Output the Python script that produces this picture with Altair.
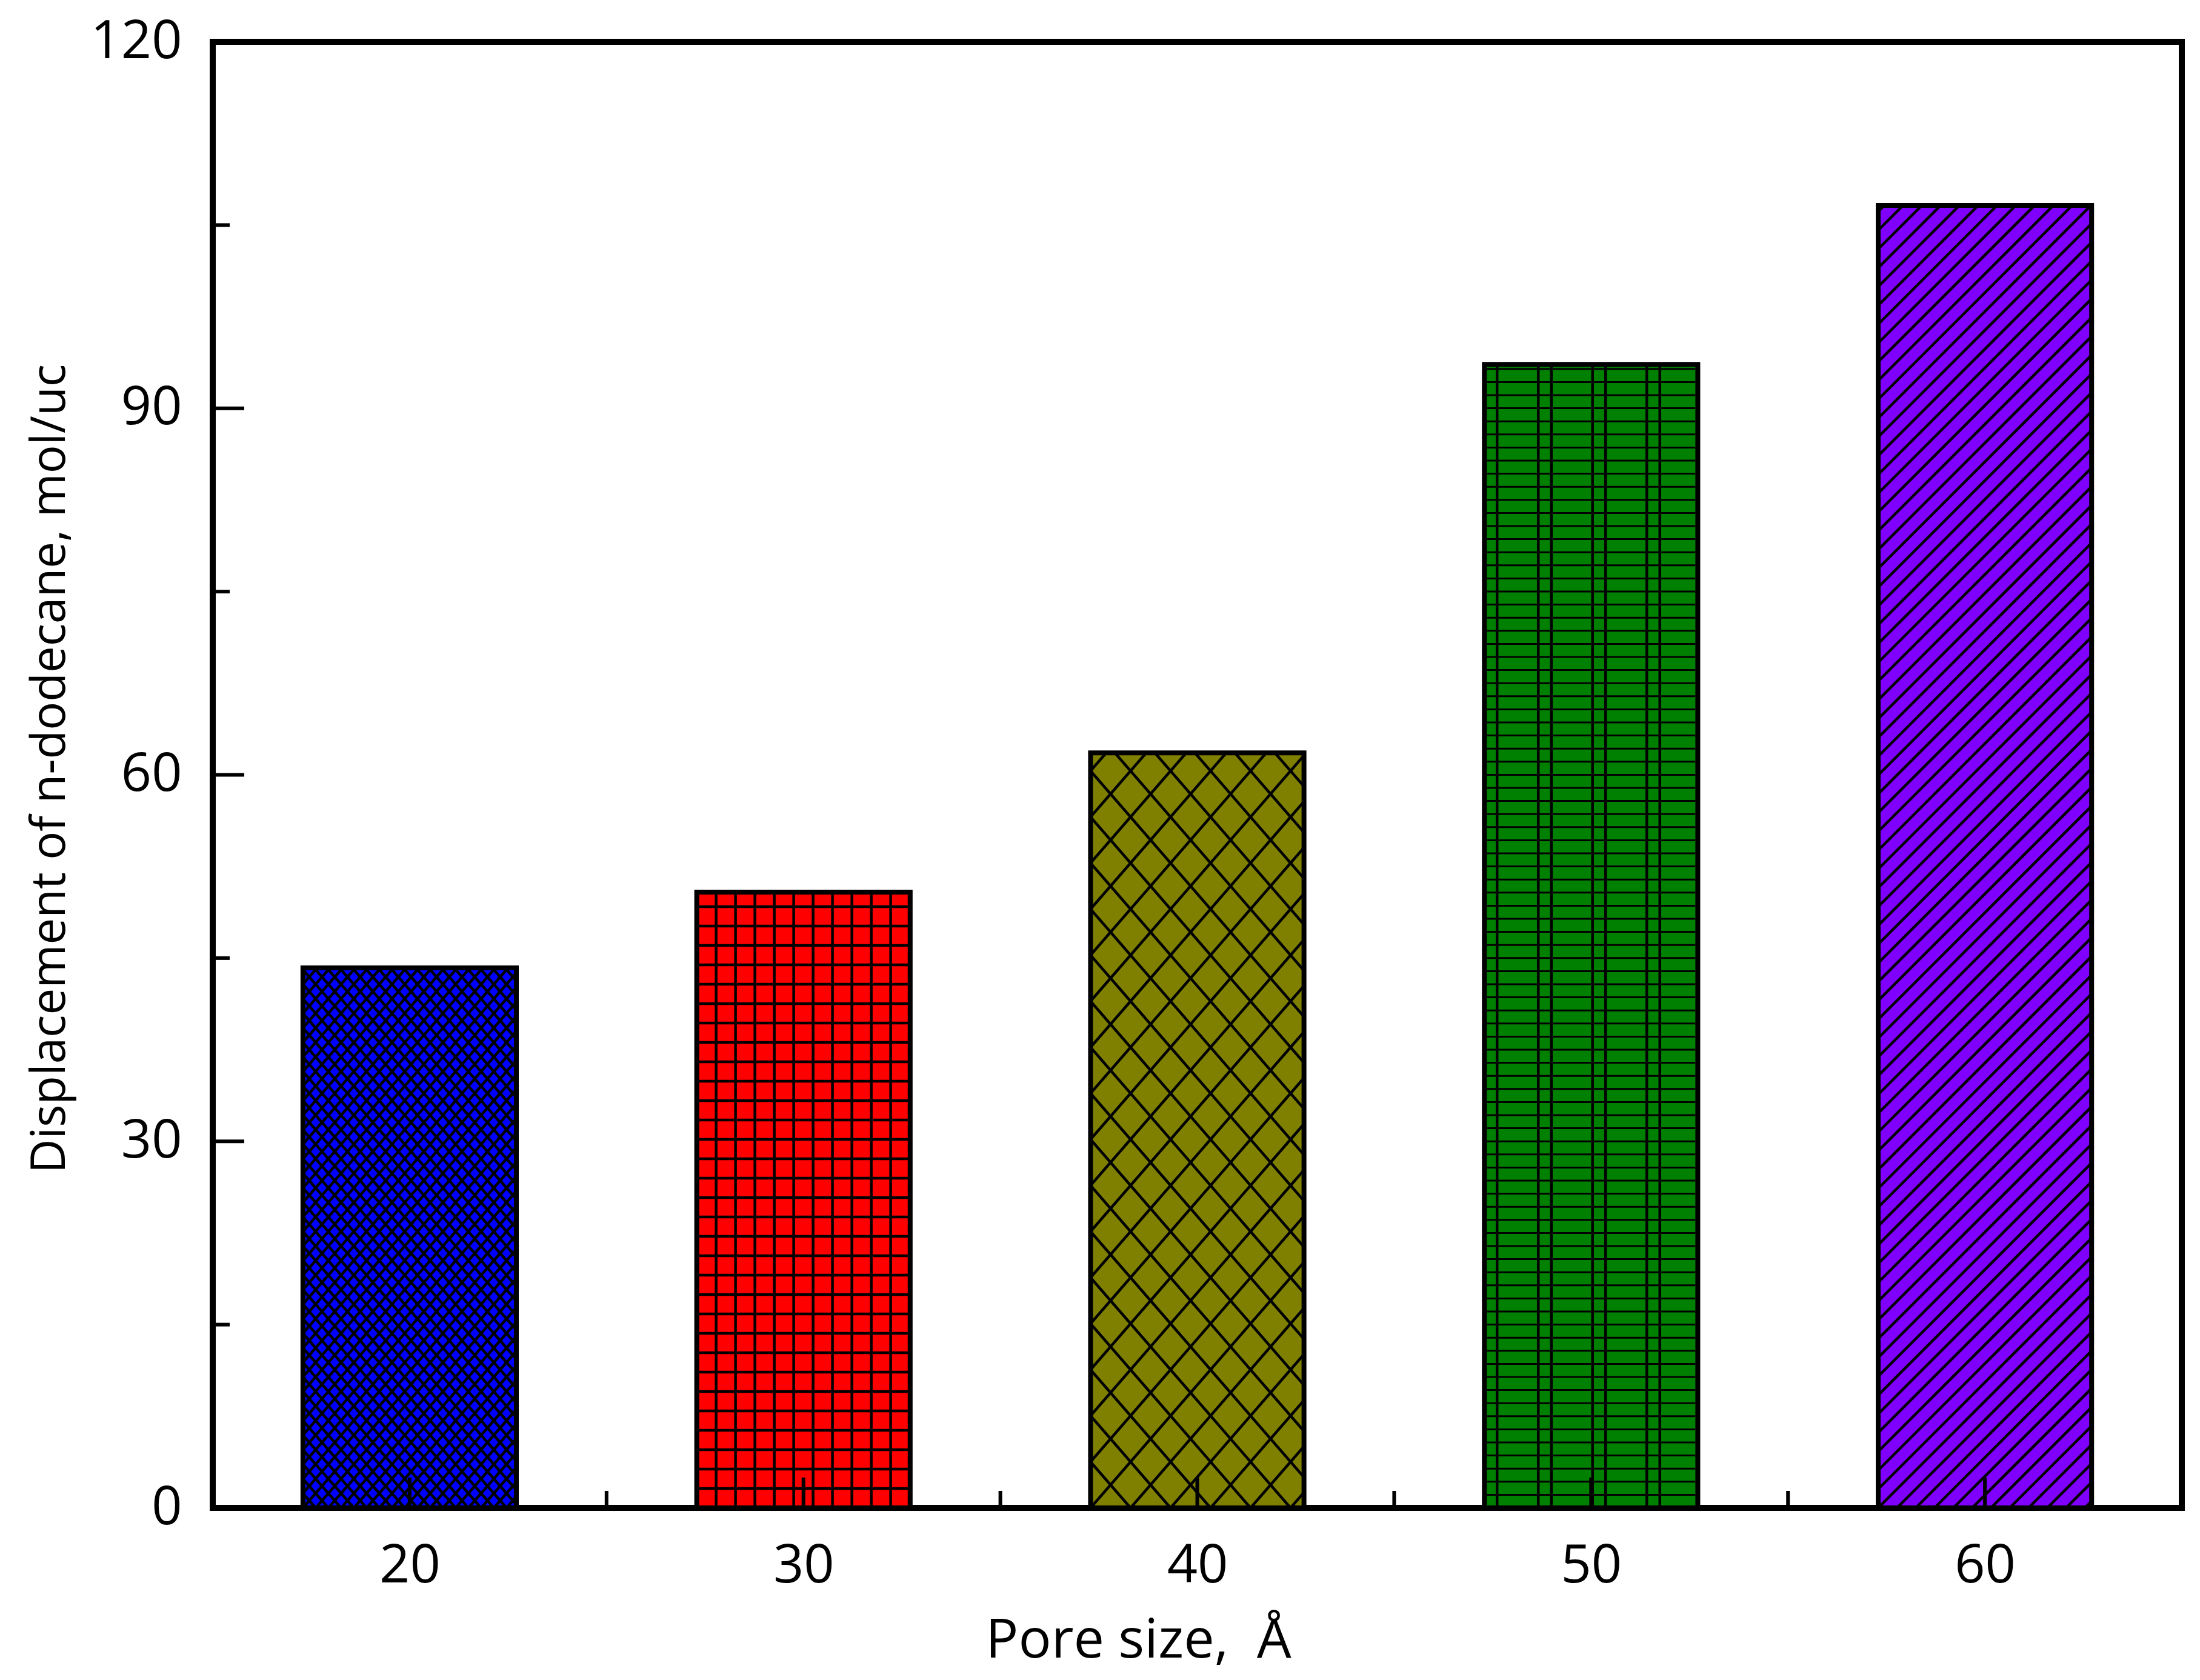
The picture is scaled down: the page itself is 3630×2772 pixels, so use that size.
import altair as alt
import pandas as pd

# ---------------- data ----------------
pore = [20, 30, 40, 50, 60]
disp = [44.2, 50.4, 61.8, 93.6, 106.6]
colors = ["#0000FF", "#FF0000", "#808000", "#008000", "#8000FF"]
y_major = [0, 30, 60, 90, 120]
y_minor = [15, 45, 75, 105]
x_major = [20, 30, 40, 50, 60]
x_minor = [25, 35, 45, 55]

# ---------------- layout ----------------
W, H = 3249, 2419
XMIN, XMAX = 15, 65
YMIN, YMAX = 0, 120
HALF = 2.71                      # half bar width in x units
kx = W / (XMAX - XMIN)
ky = H / (YMAX - YMIN)

bars = pd.DataFrame({
    "pore": pore,
    "disp": disp,
    "left": [p - HALF for p in pore],
    "right": [p + HALF for p in pore],
    "base": [0] * len(pore),
})

# hatch styles per bar (pixel geometry of the texture)
hatch = {
    20: [("cross", 21.0, 24.0, 4.5)],
    30: [("grid", 32.0, 32.0, 4.5)],
    40: [("cross", 66.0, 76.0, 4.5)],
    50: [("plaid", 89.5, [21.0, 89.0], 4.5, 21.6, 3.0)],
    60: [("diag", 31.0, 1.0, 4.5)],
}


def clip(x0, y0, x1, y1, xmin, xmax, ymin, ymax):
    dx, dy = x1 - x0, y1 - y0
    t0, t1 = 0.0, 1.0
    for p, q in ((-dx, x0 - xmin), (dx, xmax - x0), (-dy, y0 - ymin), (dy, ymax - y0)):
        if p == 0:
            if q < 0:
                return None
        else:
            t = q / p
            if p < 0:
                t0 = max(t0, t)
            else:
                t1 = min(t1, t)
    if t0 >= t1:
        return None
    return (x0 + t0 * dx, y0 + t0 * dy, x0 + t1 * dx, y0 + t1 * dy)


rows = []
for p, v in zip(pore, disp):
    ux0 = (p - HALF - XMIN) * kx
    ux1 = (p + HALF - XMIN) * kx
    vy0, vy1 = 0.0, v * ky
    segs = []
    for spec in hatch[p]:
        kind = spec[0]
        if kind == "cross":
            _, w, h, sw = spec
            s = h / w
            L = 4000.0
            k = -int(vy1 / s / w) - 3
            while ux0 + k * w < ux1 + vy1 / s + 3 * w:
                c = ux0 + k * w
                segs.append((c - L, -s * L, c + L, s * L, sw))
                segs.append((c - L, s * L, c + L, -s * L, sw))
                k += 1
        elif kind == "grid":
            _, px, py, sw = spec
            u = ux0 + px
            while u < ux1:
                segs.append((u, vy0, u, vy1, sw))
                u += px
            vv = vy0 + py
            while vv < vy1:
                segs.append((ux0, vv, ux1, vv, sw))
                vv += py
        elif kind == "plaid":
            _, per, offs, swv, py, swh = spec
            k = 0
            while ux0 + k * per < ux1:
                for o in offs:
                    u = ux0 + k * per + o
                    if u < ux1:
                        segs.append((u, vy0, u, vy1, swv))
                k += 1
            vv = vy0 + py
            while vv < vy1:
                segs.append((ux0, vv, ux1, vv, swh))
                vv += py
        elif kind == "diag":
            _, sp, s, sw = spec
            L = 4000.0
            k = -int(vy1 / s / sp) - 3
            while ux0 + k * sp < ux1 + 3 * sp:
                c = ux0 + k * sp
                segs.append((c - L, -s * L, c + L, s * L, sw))
                k += 1
    for (a, b, c2, d, sw) in segs:
        r = clip(a, b, c2, d, ux0, ux1, vy0, vy1)
        if r is None:
            continue
        rows.append({
            "x": r[0] / kx + XMIN, "y": r[1] / ky,
            "x2": r[2] / kx + XMIN, "y2": r[3] / ky,
            "sw": sw,
        })

hatch_df = pd.DataFrame(rows)

xscale = alt.Scale(domain=[XMIN, XMAX], nice=False, zero=False)
yscale = alt.Scale(domain=[YMIN, YMAX], nice=False, zero=True)

FONT = "Open Sans"

x_axis = alt.Axis(
    values=x_major, ticks=False, tickSize=0, domain=False, grid=False,
    labelFont=FONT, labelFontSize=88, labelColor="black", labelPadding=52,
    labelFlush=False, labelOverlap=False, format="d",
    title="Pore size,\u00a0\u00a0Å", titleFont=FONT, titleFontSize=90,
    titleFontWeight="normal", titleColor="black", titleX=1527, titleY=246,
    titleBaseline="alphabetic", titleAlign="center", titleAnchor="start",
)
y_axis = alt.Axis(
    values=y_major, ticks=False, tickSize=0, domain=False, grid=False,
    labelFont=FONT, labelFontSize=88, labelColor="black", labelPadding=51,
    labelFlush=False, labelOverlap=False, format="d",
    title="Displacement of n-dodecane, mol/uc", titleFont=FONT, titleFontSize=78,
    titleFontWeight="normal", titleColor="black", titleAngle=270,
    titleX=-245, titleY=1199, titleBaseline="alphabetic", titleAlign="center",
    titleAnchor="start",
)

fill_layer = alt.Chart(bars).mark_rect(strokeWidth=0).encode(
    x=alt.X("left:Q", scale=xscale, axis=x_axis),
    x2="right:Q",
    y=alt.Y("base:Q", scale=yscale, axis=y_axis),
    y2="disp:Q",
    color=alt.Color("pore:N", scale=alt.Scale(domain=pore, range=colors), legend=None),
)

hatch_layer = alt.Chart(hatch_df).mark_rule(color="black", strokeCap="butt").encode(
    x=alt.X("x:Q", scale=xscale, axis=x_axis),
    x2="x2:Q",
    y=alt.Y("y:Q", scale=yscale, axis=y_axis),
    y2="y2:Q",
    strokeWidth=alt.StrokeWidth("sw:Q", scale=None),
)

outline_layer = alt.Chart(bars).mark_rect(
    fillOpacity=0, stroke="black", strokeWidth=8, strokeJoin="miter"
).encode(
    x=alt.X("left:Q", scale=xscale, axis=x_axis),
    x2="right:Q",
    y=alt.Y("base:Q", scale=yscale, axis=y_axis),
    y2="disp:Q",
)

ytick_major = alt.Chart(pd.DataFrame({"v": y_major})).mark_rule(
    color="black", strokeWidth=6, strokeCap="butt"
).encode(y=alt.Y("v:Q", scale=yscale, axis=y_axis), x=alt.value(0), x2=alt.value(52))
ytick_minor = alt.Chart(pd.DataFrame({"v": y_minor})).mark_rule(
    color="black", strokeWidth=6, strokeCap="butt"
).encode(y=alt.Y("v:Q", scale=yscale, axis=y_axis), x=alt.value(0), x2=alt.value(28))
xtick_major = alt.Chart(pd.DataFrame({"v": x_major})).mark_rule(
    color="black", strokeWidth=6, strokeCap="butt"
).encode(x=alt.X("v:Q", scale=xscale, axis=x_axis), y=alt.value(H), y2=alt.value(H - 50))
xtick_minor = alt.Chart(pd.DataFrame({"v": x_minor})).mark_rule(
    color="black", strokeWidth=6, strokeCap="butt"
).encode(x=alt.X("v:Q", scale=xscale, axis=x_axis), y=alt.value(H), y2=alt.value(H - 28))

chart = alt.layer(
    fill_layer, hatch_layer, outline_layer,
    ytick_major, ytick_minor, xtick_major, xtick_minor,
).properties(
    width=W, height=H,
    autosize=alt.AutoSizeParams(type="none"),
    padding={"left": 343, "top": 61, "right": 22, "bottom": 268},
    background="white",
).configure_view(stroke="black", strokeWidth=10)

chart.save("out.html", embed_options={"renderer": "svg", "actions": False})
